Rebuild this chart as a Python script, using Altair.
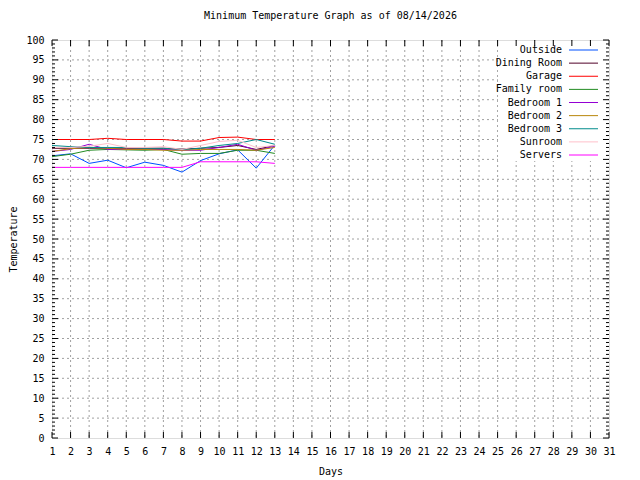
import altair as alt
import pandas as pd

days = list(range(1, 14))
names = ["Outside", "Dining Room", "Garage", "Family room", "Bedroom 1",
         "Bedroom 2", "Bedroom 3", "Sunroom", "Servers"]
colors = ["#0050ff", "#500028", "#ff0000", "#228b22", "#9400d3",
          "#b8860b", "#008b8b", "#ffc0cb", "#ff00ff"]

outside = [70.9, 71.4, 69.0, 69.8, 67.9, 69.3, 68.5, 66.8, 69.7, 71.4, 72.4, 67.8, 73.6]
dining = [72.8, 72.8, 72.8, 72.8, 72.8, 72.8, 72.8, 72.6, 72.8, 73.0, 73.5, 72.5, 73.5]
garage = [75.0, 75.0, 75.0, 75.3, 75.0, 75.0, 75.0, 74.6, 74.6, 75.5, 75.6, 75.0, 75.0]
family = [70.7, 71.3, 72.3, 72.5, 72.4, 72.3, 72.5, 71.3, 71.5, 71.5, 72.3, 72.3, 71.5]
bed1 = [72.0, 72.5, 73.8, 72.5, 72.5, 72.5, 72.5, 72.3, 72.3, 73.0, 73.8, 72.3, 73.3]
bed2 = [72.0, 72.7, 73.0, 72.8, 72.5, 72.5, 72.3, 72.3, 72.5, 72.5, 72.5, 72.3, 73.0]
bed3 = [73.5, 73.2, 73.0, 73.0, 73.0, 72.8, 72.8, 72.5, 72.8, 73.5, 74.0, 75.0, 73.8]
sunroom = [73.0, 73.0, 73.3, 74.0, 73.0, 73.0, 73.2, 72.5, 73.5, 74.5, 74.8, 73.0, 73.5]
servers = [68.0, 68.0, 68.0, 68.0, 68.0, 68.0, 68.0, 68.0, 69.4, 69.4, 69.4, 69.4, 69.0]

series = [outside, dining, garage, family, bed1, bed2, bed3, sunroom, servers]

x_ticks = list(range(1, 32))
y_major = list(range(0, 101, 5))
y_minor = [v for v in range(0, 101) if v % 5 != 0]
grid_x = list(range(2, 31))
grid_y = list(range(5, 100, 5))

rows = []
for n, vals in zip(names, series):
    for d, v in zip(days, vals):
        rows.append({"day": d, "temp": v, "series": n})
df = pd.DataFrame(rows)

W, H = 557, 398
FONT = "DejaVu Sans Mono"

xs = alt.Scale(domain=[1, 31], nice=False, zero=False)
ys = alt.Scale(domain=[0, 100], nice=False, zero=False)
cs = alt.Scale(domain=names, range=colors)

xa = alt.Axis(values=x_ticks, title="Days", grid=False, ticks=False, domain=False,
              labelPadding=8, titlePadding=10, format="d", labelOverlap=False,
              labelFlush=False, labelBound=False,
              labelFont=FONT, labelFontSize=10, labelColor="black",
              titleFont=FONT, titleFontSize=10, titleFontWeight="normal",
              titleColor="black")
ya = alt.Axis(values=y_major, title="Temperature", grid=False, ticks=False,
              domain=False, labelPadding=8, titlePadding=7, format="d",
              labelOverlap=False, labelFlush=False, labelBound=False,
              labelFont=FONT, labelFontSize=10, labelColor="black",
              titleFont=FONT, titleFontSize=10, titleFontWeight="normal",
              titleColor="black")

def X(f):
    return alt.X(f, scale=xs, axis=xa)

def Y(f):
    return alt.Y(f, scale=ys, axis=ya)

gx = alt.Chart(pd.DataFrame({"d": grid_x})).mark_rule(
    color="#a0a0a0", strokeDash=[2, 3], strokeWidth=1
).encode(x=X("d:Q"))
gy = alt.Chart(pd.DataFrame({"v": grid_y})).mark_rule(
    color="#a0a0a0", strokeDash=[2, 3], strokeWidth=1
).encode(y=Y("v:Q"))

# blank key area, as gnuplot clears it
keybox = alt.Chart(pd.DataFrame({"v": [0]})).mark_rect(
    color="white", stroke=None
).encode(x=alt.value(446), x2=alt.value(556), y=alt.value(1), y2=alt.value(121))

lines = alt.Chart(df).mark_line(strokeWidth=1, interpolate="linear").encode(
    x=X("day:Q"),
    y=Y("temp:Q"),
    color=alt.Color("series:N", scale=cs, legend=None),
    order=alt.Order("day:Q"),
)

ymaj = pd.DataFrame({"v": y_major})
ymin = pd.DataFrame({"v": y_minor})
xt = pd.DataFrame({"d": x_ticks})

def yt(data, x1, x2):
    return alt.Chart(data).mark_rule(color="black", strokeWidth=1).encode(
        y=Y("v:Q"), x=alt.value(x1), x2=alt.value(x2))

def xtk(y1, y2):
    return alt.Chart(xt).mark_rule(color="black", strokeWidth=1).encode(
        x=X("d:Q"), y=alt.value(y1), y2=alt.value(y2))

ticks = [yt(ymaj, 0, 6), yt(ymaj, W, W - 6), yt(ymin, 0, 3), yt(ymin, W, W - 3),
         xtk(H, H - 6), xtk(0, 6)]

main = alt.layer(gx, gy, keybox, lines, *ticks)

leg = pd.DataFrame({"series": names})
ly = alt.Y("series:N", sort=names, axis=None,
           scale=alt.Scale(type="point", domain=names, range=[10, 115], padding=0))
leg_text = alt.Chart(leg).mark_text(
    align="right", baseline="middle", font=FONT, fontSize=10, color="black"
).encode(x=alt.value(510), y=ly, text="series:N")
leg_line = alt.Chart(leg).mark_rule(strokeWidth=1).encode(
    x=alt.value(517), x2=alt.value(546), y=ly,
    color=alt.Color("series:N", scale=cs, legend=None))
legend = alt.layer(leg_text, leg_line)

chart = alt.layer(main, legend).resolve_scale(y="independent").properties(
    width=W, height=H,
    autosize=alt.AutoSizeParams(type="none"),
    padding={"left": 44, "top": 32, "right": 23, "bottom": 42},
    title=alt.TitleParams("Minimum Temperature Graph as of 08/14/2026",
                          font=FONT, fontSize=10, fontWeight="normal",
                          anchor="middle", offset=14, color="black"),
).configure_view(stroke="black", strokeWidth=1).configure(background="white")

chart.save("out.html", embed_options={"renderer": "svg", "actions": False})
